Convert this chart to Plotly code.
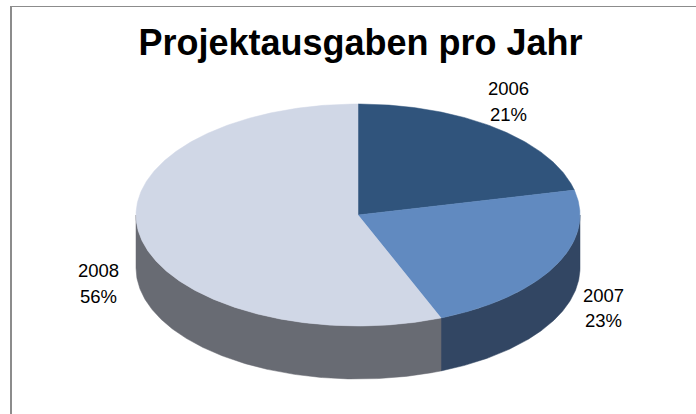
import math
import plotly.graph_objects as go

# Data
years = ["2006", "2007", "2008"]
values = [21.4, 22.5, 56.1]
labels_pct = ["21%", "23%", "56%"]
title_text = "Projektausgaben pro Jahr"

# Styles
top_colors = ["#30547c", "#618ac0", "#d0d7e6"]
wall_colors = ["#2a3c55", "#324663", "#686b73"]
label_anchor = {"2006": (508, 88, 114), "2007": (603.5, 295, 320), "2008": (98, 270, 296)}

# Projection of the tilted disc, in the 696x414 canvas
CX, CY, RX, RY, DEPTH = 358, 215, 222, 111, 53
FRAME = "#8c8c8c"


def rim(deg_from, deg_to, drop=0.0):
    n = max(2, int(abs(deg_to - deg_from) * 2) + 1)
    xs, ys = [], []
    for i in range(n):
        a = math.radians(deg_from + (deg_to - deg_from) * i / (n - 1))
        xs.append(CX + RX * math.sin(a))
        ys.append(CY - RY * math.cos(a) + drop)
    return xs, ys


total = sum(values)
fig = go.Figure()
edges = [0.0]
for v in values:
    edges.append(edges[-1] + v / total * 360)

# side walls: only the part of the rim facing the viewer (90..270 degrees)
for i, year in enumerate(years):
    a0, a1 = max(edges[i], 90), min(edges[i + 1], 270)
    if a1 <= a0:
        continue
    tx, ty = rim(a0, a1)
    bx, by = rim(a0, a1, DEPTH)
    fig.add_trace(go.Scatter(
        x=tx + bx[::-1] + tx[:1], y=ty + by[::-1] + ty[:1],
        mode="lines", fill="toself", fillcolor=wall_colors[i],
        line=dict(width=0.5, color=wall_colors[i]), hoverinfo="skip", showlegend=False))

# top faces
for i, year in enumerate(years):
    tx, ty = rim(edges[i], edges[i + 1])
    fig.add_trace(go.Scatter(
        x=[CX] + tx + [CX], y=[CY] + ty + [CY],
        mode="lines", fill="toself", fillcolor=top_colors[i],
        line=dict(width=0.5, color=top_colors[i]), name=year,
        hoverinfo="name", showlegend=False))

annotations = []
for year, pct in zip(years, labels_pct):
    ax, y1, y2 = label_anchor[year]
    for text, ay in ((year, y1), (pct, y2)):
        annotations.append(dict(x=ax, y=ay, xref="x", yref="y", text=text, showarrow=False,
                                xanchor="center", yanchor="middle",
                                font=dict(family="Liberation Sans", size=18.5, color="#000000")))

fig.update_layout(
    width=696, height=414, margin=dict(l=0, r=0, t=0, b=0),
    paper_bgcolor="white", plot_bgcolor="white", showlegend=False,
    title=dict(text=title_text, x=360.5 / 696, y=1 - 42 / 414, xref="paper", yref="paper",
               xanchor="center", yanchor="middle", pad=dict(t=0, b=0, l=0, r=0),
               font=dict(family="Liberation Sans", size=36, color="#000000", weight="bold")),
    xaxis=dict(range=[0, 696], visible=False, fixedrange=True),
    yaxis=dict(range=[414, 0], visible=False, fixedrange=True),
    annotations=annotations,
    shapes=[
        dict(type="line", xref="x", yref="y", x0=11, x1=11, y0=6, y1=414,
             line=dict(color=FRAME, width=2)),
        dict(type="line", xref="x", yref="y", x0=10, x1=696, y0=6.5, y1=6.5,
             line=dict(color=FRAME, width=1)),
    ],
)

fig.write_html("out.html", config={"displayModeBar": False},
               post_script="document.body.style.margin='0';document.body.style.overflow='hidden';")
